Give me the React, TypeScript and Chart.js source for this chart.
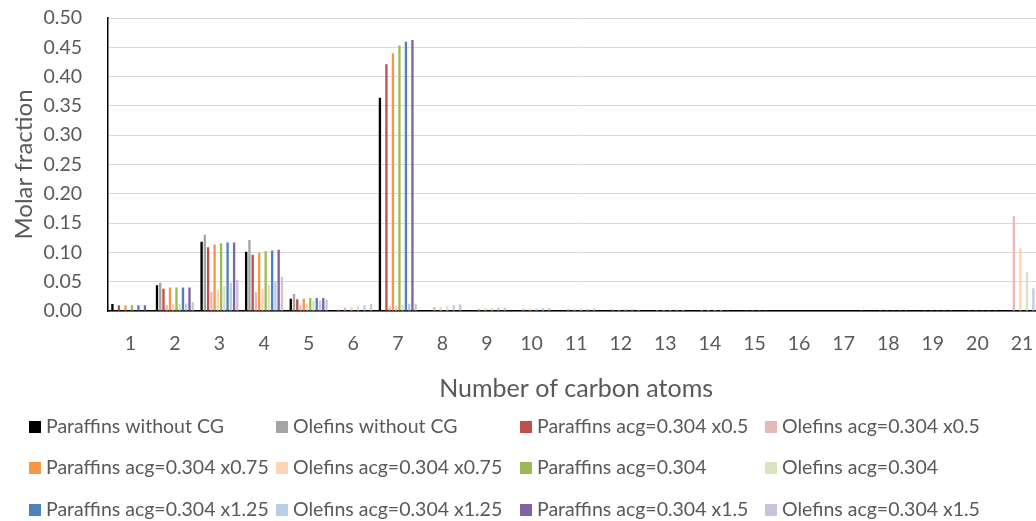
import { useEffect, useRef } from "react";
import { Chart, registerables } from "chart.js";

Chart.register(...registerables);

const categories = ["1", "2", "3", "4", "5", "6", "7", "8", "9", "10", "11", "12", "13", "14", "15", "16", "17", "18", "19", "20", "21"];

const seriesLabels = [
  "Paraffins without CG",
  "Olefins without CG",
  "Paraffins acg=0.304 x0.5",
  "Olefins acg=0.304 x0.5",
  "Paraffins acg=0.304 x0.75",
  "Olefins acg=0.304 x0.75",
  "Paraffins acg=0.304",
  "Olefins acg=0.304",
  "Paraffins acg=0.304 x1.25",
  "Olefins acg=0.304 x1.25",
  "Paraffins acg=0.304 x1.5",
  "Olefins acg=0.304 x1.5",
];

const seriesColors = [
  "#000000", "#a5a5a5",
  "#c0504d", "#e6b9b8",
  "#f79646", "#fcd5b5",
  "#9bbb59", "#d7e4bd",
  "#4f81bd", "#b9cde5",
  "#8064a2", "#ccc1da",
];

const parWithoutCG = [0.012, 0.044, 0.118, 0.101, 0.021, 0, 0.364, 0, 0, 0, 0, 0, 0, 0, 0, 0, 0, 0, 0, 0, 0];
const olefWithoutCG = [0, 0.048, 0.130, 0.121, 0.029, 0.002, 0, 0, 0, 0, 0, 0, 0, 0, 0, 0, 0, 0, 0, 0, 0];
const parX05 = [0.010, 0.038, 0.109, 0.096, 0.020, 0, 0.421, 0, 0, 0, 0, 0, 0, 0, 0, 0, 0, 0, 0, 0, 0];
const olefX05 = [0, 0.010, 0.033, 0.032, 0.010, 0.006, 0.008, 0.0068, 0.004, 0.004, 0.004, 0.003, 0.002, 0.0017, 0.0012, 0.001, 0.0008, 0.0006, 0.0005, 0.0004, 0.162];
const parX075 = [0.010, 0.040, 0.1135, 0.099, 0.021, 0, 0.440, 0, 0, 0, 0, 0, 0, 0, 0, 0, 0, 0, 0, 0, 0];
const olefX075 = [0, 0.012, 0.0365, 0.0376, 0.013, 0.0074, 0.009, 0.0070, 0.0045, 0.0045, 0.004, 0.003, 0.002, 0.0015, 0.0012, 0.001, 0.0008, 0.0006, 0.0005, 0.0004, 0.108];
const parX1 = [0.010, 0.040, 0.1157, 0.102, 0.022, 0, 0.453, 0, 0, 0, 0, 0, 0, 0, 0, 0, 0, 0, 0, 0, 0];
const olefX1 = [0, 0.012, 0.0427, 0.045, 0.0174, 0.0088, 0.0108, 0.0085, 0.006, 0.005, 0.0042, 0.0035, 0.002, 0.0015, 0.0012, 0.001, 0.0008, 0.0006, 0.0005, 0.0004, 0.067];
const parX125 = [0.010, 0.040, 0.117, 0.1034, 0.022, 0, 0.4596, 0, 0, 0, 0, 0, 0, 0, 0, 0, 0, 0, 0, 0, 0];
const olefX125 = [0, 0.013, 0.0483, 0.051, 0.0174, 0.0098, 0.0125, 0.0097, 0.006, 0.005, 0.004, 0.003, 0.002, 0.0015, 0.0012, 0.001, 0.0008, 0.0006, 0.0005, 0.0004, 0.039];
const parX15 = [0.010, 0.040, 0.117, 0.1045, 0.022, 0, 0.4625, 0, 0, 0, 0, 0, 0, 0, 0, 0, 0, 0, 0, 0, 0];
const olefX15 = [0, 0.015, 0.0528, 0.0579, 0.019, 0.0119, 0.0125, 0.0114, 0.006, 0.005, 0.004, 0.002, 0.0015, 0.0012, 0.001, 0.0008, 0.0006, 0.0005, 0.0004, 0.0003, 0.022];

const seriesValues = [
  parWithoutCG, olefWithoutCG,
  parX05, olefX05,
  parX075, olefX075,
  parX1, olefX1,
  parX125, olefX125,
  parX15, olefX15,
];

const yTicks = [0, 0.05, 0.1, 0.15, 0.2, 0.25, 0.3, 0.35, 0.4, 0.45, 0.5];

const FONT = "Lato";
const TEXT = "#595959";

const gridLegend = {
  id: "gridLegend",
  afterDraw(chart: any) {
    const ctx = chart.ctx;
    const colX = [29, 276, 520, 765];
    const rowY = [427, 468, 510];
    ctx.save();
    ctx.font = `19.5px ${FONT}`;
    ctx.textBaseline = "middle";
    ctx.textAlign = "left";
    chart.data.datasets.forEach((ds: any, i: number) => {
      const x = colX[i % 4];
      const y = rowY[Math.floor(i / 4)];
      ctx.fillStyle = ds.backgroundColor;
      ctx.fillRect(x, y - 6, 12, 12);
      ctx.fillStyle = TEXT;
      ctx.fillText(ds.label, x + 17, y);
    });
    ctx.restore();
  },
};

export default function App() {
  const ref = useRef<HTMLCanvasElement | null>(null);

  useEffect(() => {
    if (!ref.current) return;
    const chart = new Chart(ref.current, {
      type: "bar",
      data: {
        labels: categories,
        datasets: seriesLabels.map((label, i) => ({
          label,
          data: seriesValues[i],
          backgroundColor: seriesColors[i],
          borderWidth: 0,
          barPercentage: 0.72,
          categoryPercentage: 0.875,
        })),
      },
      options: {
        responsive: false,
        animation: false,
        layout: { padding: { top: 18, right: 15.7, bottom: 115, left: 0 } },
        plugins: {
          legend: { display: false },
          tooltip: { enabled: false },
        },
        scales: {
          x: {
            grid: { display: false, drawTicks: false },
            border: { display: true, color: "#000000", width: 1.5 },
            ticks: {
              color: TEXT,
              font: { family: FONT, size: 19.5 },
              padding: 21,
              maxRotation: 0,
              autoSkip: false,
            },
            title: {
              display: true,
              text: "Number of carbon atoms",
              color: TEXT,
              font: { family: FONT, size: 25 },
              padding: { top: 0, bottom: 2 },
            },
            afterFit(scale: any) {
              scale.height = 95;
              scale.paddingLeft = 0;
              scale.paddingRight = 0;
            },
          },
          y: {
            min: 0,
            max: 0.5,
            afterBuildTicks(scale: any) {
              scale.ticks = yTicks.map((v) => ({ value: v }));
            },
            grid: { color: "#d9d9d9", lineWidth: 1, drawTicks: false },
            border: { display: true, color: "#000000", width: 1.5 },
            ticks: {
              color: TEXT,
              font: { family: FONT, size: 19.5 },
              padding: 26,
              callback: (v: any) => Number(v).toFixed(2),
            },
            title: {
              display: true,
              text: "Molar fraction",
              color: TEXT,
              font: { family: FONT, size: 24 },
              padding: { top: 9.6, bottom: 0 },
            },
            afterFit(scale: any) {
              scale.width = 108;
              scale.paddingTop = 0;
              scale.paddingBottom = 0;
            },
          },
        },
      },
      plugins: [gridLegend],
    });
    return () => chart.destroy();
  }, []);

  return (
    <div
      style={{
        position: "fixed",
        left: 0,
        top: 0,
        width: 1036,
        height: 521,
        overflow: "hidden",
        background: "#ffffff",
      }}
    >
      <canvas ref={ref} width={1060} height={521} style={{ width: 1060, height: 521, display: "block" }} />
    </div>
  );
}
